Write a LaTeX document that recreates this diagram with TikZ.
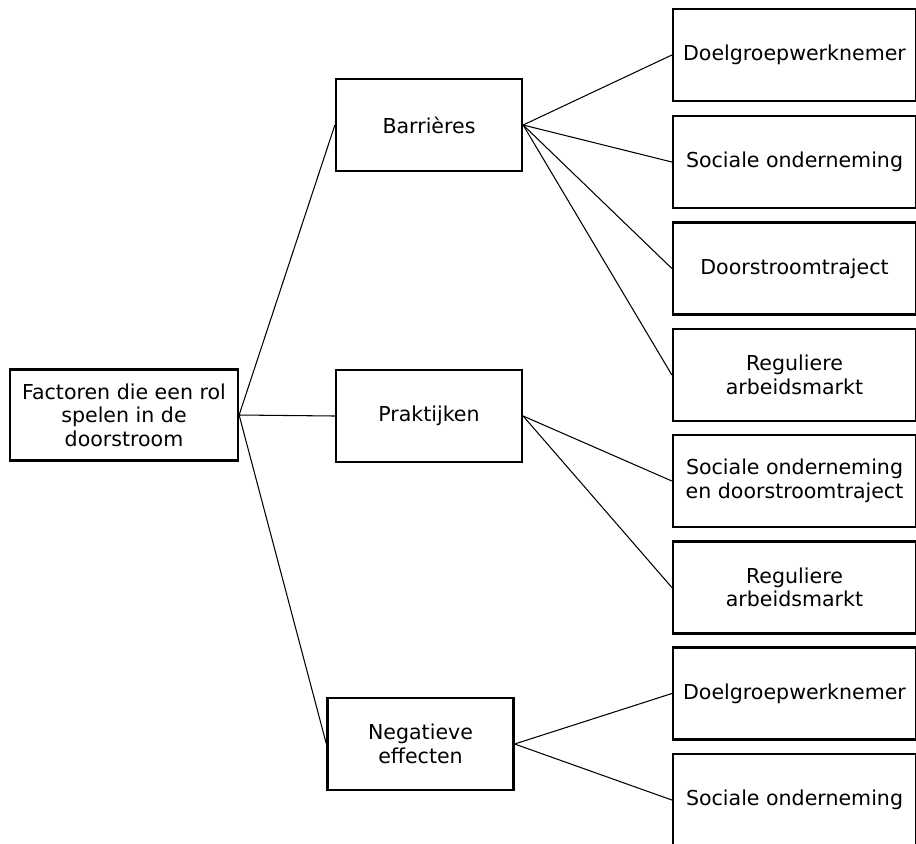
\documentclass[tikz,border=0pt]{standalone}
\usepackage{fontspec}
\setmainfont{DejaVu Sans}
\usepackage{tikz}

\begin{document}
\begin{tikzpicture}[x=0.02cm, y=-0.02cm,
  box/.style={draw, line width=1.3pt, align=center, inner sep=0pt,
    font=\fontsize{11.7}{13.4}\selectfont},
  midbox/.style={box, minimum width=3.72cm, minimum height=1.84cm},
  leafbox/.style={box, minimum width=4.86cm, minimum height=1.84cm},
  link/.style={line width=0.6pt}]
  \useasboundingbox (0,0) rectangle (916,843);
  % root
  \node[box, minimum width=4.56cm, minimum height=1.82cm] (root) at (124,415)
    {Factoren die een rol\\spelen in de\\doorstroom};
  % middle level
  \node[midbox] (bar) at (429,125) {Barrières};
  \node[midbox] (prak) at (429,416) {Praktijken};
  \node[midbox] (neg) at (420.5,744) {Negatieve\\effecten};
  % leaves
  \node[leafbox] (bar1) at (794.5,55) {Doelgroepwerknemer};
  \node[leafbox] (bar2) at (794.5,162) {Sociale onderneming};
  \node[leafbox] (bar3) at (794.5,268.5) {Doorstroomtraject};
  \node[leafbox] (bar4) at (794.5,375) {Reguliere\\arbeidsmarkt};
  \node[leafbox] (prak1) at (794.5,481) {Sociale onderneming\\en doorstroomtraject};
  \node[leafbox] (prak2) at (794.5,587.5) {Reguliere\\arbeidsmarkt};
  \node[leafbox] (neg1) at (794.5,693.5) {Doelgroepwerknemer};
  \node[leafbox] (neg2) at (794.5,800) {Sociale onderneming};
  % links
  \draw[link] (root.east) -- (bar.west);
  \draw[link] (root.east) -- (prak.west);
  \draw[link] (root.east) -- (neg.west);
  \foreach \n in {bar1,bar2,bar3,bar4}
    \draw[link] (bar.east) -- (\n.west);
  \foreach \n in {prak1,prak2}
    \draw[link] (prak.east) -- (\n.west);
  \foreach \n in {neg1,neg2}
    \draw[link] (neg.east) -- (\n.west);
\end{tikzpicture}
\end{document}
